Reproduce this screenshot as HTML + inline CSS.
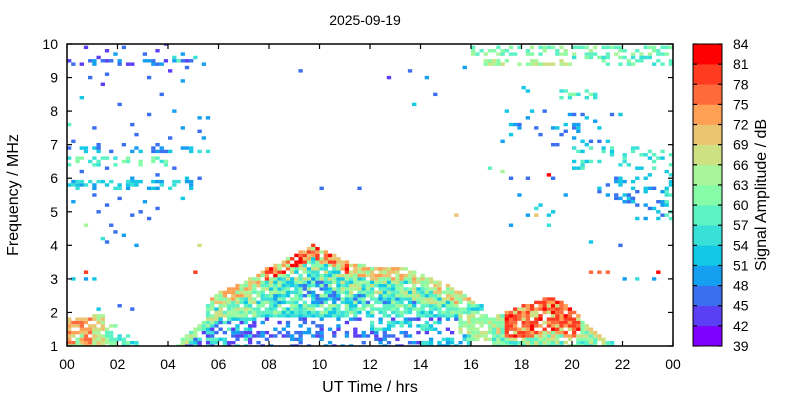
<!DOCTYPE html>
<html><head><meta charset="utf-8">
<style>
html,body{margin:0;padding:0;background:#fff;}
svg{display:block;font-family:"Liberation Sans",Arial,sans-serif;}
</style></head>
<body>
<svg id="chart" width="800" height="400" viewBox="0 0 800 400">
  <text x="365" y="25" font-size="14" text-anchor="middle">2025-09-19</text>
  <g id="cells"></g>
  <rect x="67" y="44" width="606" height="302" fill="none" stroke="#000" stroke-width="1.5"/>
  <g id="axes"></g>
  <text x="370" y="392" font-size="16" text-anchor="middle">UT Time / hrs</text>
  <text transform="translate(18,195) rotate(-90)" font-size="16" text-anchor="middle">Frequency / MHz</text>
  <g id="cbar"></g>
  <text transform="translate(766,195) rotate(-90)" font-size="16" text-anchor="middle">Signal Amplitude / dB</text>
</svg>
<script>
const xTicks = ["00","02","04","06","08","10","12","14","16","18","20","22","00"];
const yTicks = [1,2,3,4,5,6,7,8,9,10];
const cbLabels = [39,42,45,48,51,54,57,60,63,66,69,72,75,78,81,84];
const cbColors = ["#7f00ff","#5a3ff5","#3a70f0","#149ff0","#13c8e4","#38e0d8","#5cf2c4","#86fca8","#a9f59a","#cde183","#eac470","#ffa055","#ff6a3a","#ff3b20","#ff0000"];

// sparse/dense rectangular regions: [hourStart, hourEnd, fLow, fHigh, level, density]
const regions = [
 [0,1.0,1.0,1.75,72,0.85],[1.0,1.5,1.0,1.85,66,0.8],[1.5,2.0,1.0,1.6,60,0.7],[2.0,2.5,1.0,1.3,57,0.55],[2.5,2.8,1.0,1.05,54,0.5],
 [0,0.6,1.0,1.25,63,0.6],
 [0,5,5.7,5.85,51,0.45],[0,4,6.4,6.55,57,0.4],[0,5,6.75,6.85,48,0.3],[0,5,9.35,9.45,45,0.25],
 [5.5,16.5,1.85,2.15,54,0.85],[5.5,16.2,2.0,2.15,60,0.5],
 [7.5,16,1.0,1.8,45,0.3],[6.5,14,1.3,1.4,45,0.55],[12,15,1.5,1.7,54,0.45],
 [15.5,17.5,1.2,1.9,63,0.8],[14,16,1.0,1.25,51,0.5],
 [16,24,9.65,9.85,60,0.45],[16.5,20,9.35,9.5,63,0.55],[20,24,9.4,9.55,57,0.35],
 [20,24,6.3,7.0,54,0.25],[21,24,5.3,6.0,48,0.25],[22.5,24,4.8,6.2,48,0.25],[17,22,7.0,8.0,48,0.1],[17.5,20,4.6,5.5,51,0.08],
 [19.5,21,8.4,8.55,57,0.45],[23.7,24,4.8,6.5,54,0.45]
];
// upper F-layer dome envelope
const domeHours = [5.7,6,6.5,7,7.5,8,8.5,9,9.5,9.8,10,10.5,11,11.5,12,12.5,13,13.5,14,14.5,15,15.5,16,16.2];
const domeTop   = [2.4,2.6,2.75,2.9,3.1,3.35,3.5,3.7,3.9,4.05,3.9,3.75,3.55,3.45,3.35,3.3,3.35,3.3,3.15,3.0,2.85,2.65,2.4,2.25];
// early-morning wedge envelope
const wedgeHours = [4.3,4.7,5,5.5,6,6.5,7.5];
const wedgeTop   = [1.0,1.3,1.5,1.8,2.1,2.15,2.15];
// evening red blob envelope
const blobHours = [16.8,17.3,17.8,18.3,18.8,19.2,19.6,20,20.4,20.8,21.2,21.6];
const blobTop   = [1.7,2.0,2.15,2.25,2.4,2.45,2.3,2.1,1.8,1.5,1.3,1.1];
// isolated points: [hour, freq, level]
const points = [
 [0.7,9.85,42],[1.2,9.55,42],[1.6,9.8,42],[0.2,9.4,45],[0.5,9.4,42],[1.0,9.4,48],[1.4,9.5,45],[2.0,9.35,45],[2.6,9.4,42],[3.0,9.7,45],[3.3,9.5,48],[3.6,9.8,42],[3.9,9.95,42],[4.2,9.6,54],[4.4,9.5,57],[4.6,9.7,48],[4.8,9.3,45],[5.0,9.6,54],[5.4,9.4,48],[2.3,9.85,45],[1.9,9.7,48],[4.0,9.2,42],[3.2,9.0,45],[4.5,8.9,48],[0.9,9.0,45],[1.5,9.05,45],
 [0.5,8.4,51],[1.4,8.8,42],[2.0,8.2,45],[2.5,7.6,45],[3.2,7.9,45],[3.8,8.5,45],[4.3,8.0,48],[4.6,7.5,48],[5.3,7.8,48],[1.0,7.5,45],[2.8,7.3,45],[0.2,7.1,45],[1.2,7.0,45],[3.5,7.0,45],[4.0,7.2,45],[5.2,7.4,45],[5.5,7.8,48],[5.5,6.8,54],[5.2,6.8,54],[5.4,7.2,48],[0.1,7.6,57],[2.2,7.0,45],
 [0.3,5.3,48],[1.0,5.5,45],[1.5,5.2,45],[2.0,5.4,45],[2.5,4.9,45],[3.0,5.3,48],[3.5,5.1,45],[4.5,5.4,51],[1.8,4.6,45],[2.2,4.3,48],[0.8,4.6,63],[3.2,4.8,45],[1.2,5.0,45],[2.9,5.0,45],
 [0.5,6.2,45],[1.6,6.3,45],[2.5,6.0,48],[3.5,6.1,45],[4.2,6.3,45],[4.7,6.0,51],[5.3,6.0,45],
 [10.0,5.65,45],[11.6,5.7,45],[9.2,9.2,45],[12.7,9.0,42],[13.6,9.2,45],[14.3,9.0,48],[15.8,9.3,48],[13.8,8.2,51],[14.5,8.5,45],
 [15.4,4.9,69],[5.3,4.0,66],[5.0,3.2,78],[0.8,3.2,78],[0.3,3.0,51],[0.8,3.0,48],[1.0,3.0,51],[1.4,4.2,54],[1.6,4.1,45],[1.9,4.35,45],[2.8,4.0,48],[2.6,2.1,45],[1.3,2.1,51],[2.0,2.15,45],
 [20.8,3.15,75],[21.1,3.15,75],[21.4,3.15,75],[23.4,3.2,81],[22.0,3.0,48],[22.5,3.0,54],[23.2,3.0,48],[20.8,4.1,51],[21.9,4.0,45],
 [18.1,8.7,51],[18.2,8.6,51],[19.05,6.1,81],[17.5,6.0,45],[18.3,6.0,45],[19.3,6.0,45],[18.5,4.9,69],[16.8,6.3,57],[17.3,6.2,63],[18.8,7.3,45]
];

const NS = "http://www.w3.org/2000/svg";
const X0=67, X1=673, Y0=346, Y1=44;
const xs = h => X0 + h*(X1-X0)/24;
const ys = f => Y0 - (f-1)*(Y0-Y1)/9;
const colorOf = l => cbColors[Math.max(0,Math.min(14,Math.floor((l-39)/3)))];
const grid = new Map();
// pixel texture (visual dithering only)
function tex(i,j,s){ let h=Math.imul(i+1,374761393)^Math.imul(j+7,668265263)^Math.imul((s||0)+3,2246822519);
  h=Math.imul(h^(h>>>13),1274126177); h^=h>>>16; return (h>>>0)%100; }
function pick(arr,i,j){ return arr[tex(i,j,5)%arr.length]; }
function put(i,j,l){ if(i>=0&&i<144&&j>=0&&j<=90) grid.set(i+","+j,l); }
function interp(hs,ts,h){
  if(h<hs[0]||h>hs[hs.length-1]) return null;
  for(let k=0;k<hs.length-1;k++){ if(h>=hs[k]&&h<=hs[k+1]){ const t=(h-hs[k])/(hs[k+1]-hs[k]); return ts[k]+t*(ts[k+1]-ts[k]); } }
  return ts[ts.length-1];
}
regions.forEach(r=>{
  for(let i=Math.floor(r[0]*6); i<Math.ceil(r[1]*6); i++)
    for(let j=Math.round((r[2]-1)*10); j<=Math.round((r[3]-1)*10); j++)
      if(tex(i,j,1) < r[5]*100) put(i,j, r[4] + ((tex(i,j,2)%3)-1)*3);
});
for(let i=0;i<144;i++){
  const h=(i+0.5)/6;
  const wt=interp(wedgeHours,wedgeTop,h);
  if(wt!==null){ for(let j=0;(1+j/10)<=wt;j++){ const f=1+j/10, d=wt-f;
    if(h>6 && f<1.8 && tex(i,j,3)>45) continue;
    if(tex(i,j,4)<12) continue;
    put(i,j, d<0.3?pick([60,63,66,57],i,j):pick([54,45,51,42,57],i,j)); } }
  const dt=interp(domeHours,domeTop,h);
  if(dt!==null){ for(let j=13;(1+j/10)<=dt;j++){ const f=1+j/10, d=dt-f;
    if(Math.abs(f-2.2)<0.05) continue;
    if(tex(i,j,6)<8) continue;
    let l; const hot=(h>7.8&&h<11.2);
    if(d<0.4) l=hot?pick([75,72,78,69,81,63],i,j):pick([69,66,63,60,72],i,j);
    else if(d<0.9) l=pick([63,60,57,66,54,51],i,j);
    else l=pick([57,54,51,60,48,63,45],i,j);
    put(i,j,l); } }
  const bt=interp(blobHours,blobTop,h);
  if(bt!==null){ for(let j=0;(1+j/10)<=bt;j++){ const f=1+j/10, d=bt-f;
    if(tex(i,j,7)<8) continue;
    let l; const hot=(h>17.4&&h<20.3);
    if(f<1.3) l=pick([63,57,60,54,66],i,j); else if(hot&&d<1.0) l=pick([78,75,81,72,66,78],i,j); else l=pick([66,60,63,69,57],i,j);
    put(i,j,l); } }
}
points.forEach(p=>put(Math.floor(p[0]*6), Math.round((p[1]-1)*10), p[2]));
const gc=document.getElementById("cells");
const cw=(X1-X0)/144, chh=(Y0-Y1)/90;
grid.forEach((l,k)=>{
  const [i,j]=k.split(",").map(Number);
  const r=document.createElementNS(NS,"rect");
  r.setAttribute("x",(X0+i*cw).toFixed(2));
  r.setAttribute("y",(ys(1+j/10)-chh/2).toFixed(2));
  r.setAttribute("width",(cw+0.1).toFixed(2));
  r.setAttribute("height",(chh+0.05).toFixed(2));
  r.setAttribute("fill",colorOf(l));
  
  
  gc.appendChild(r);
});
gc.setAttribute("clip-path","url(#plotclip)");
const defs=document.createElementNS(NS,"defs");
defs.innerHTML='<clipPath id="plotclip"><rect x="67" y="44" width="606" height="302"/></clipPath>';
document.getElementById("chart").prepend(defs);

const ax=document.getElementById("axes");
function line(x1,y1,x2,y2,parent,name){const l=document.createElementNS(NS,"line");
  l.setAttribute("x1",x1);l.setAttribute("y1",y1);l.setAttribute("x2",x2);l.setAttribute("y2",y2);
  l.setAttribute("stroke","#000");l.setAttribute("stroke-width","1.2");
  
  
  parent.appendChild(l);}
function text(x,y,s,anchor,parent,name){const t=document.createElementNS(NS,"text");
  t.setAttribute("x",x);t.setAttribute("y",y);t.setAttribute("font-size","14");t.setAttribute("text-anchor",anchor);t.textContent=s;
  
  
  parent.appendChild(t);}
xTicks.forEach((s,k)=>{const x=xs(k*2);
  line(x,Y0,x,Y0-5,ax,"x-tick");line(x,Y1,x,Y1+5,ax,"x-tick-top");
  text(x,Y0+23,s,"middle",ax,"x-tick-label");});
yTicks.forEach(v=>{const y=ys(v);
  line(X0,y,X0+5,y,ax,"y-tick");line(X1,y,X1-5,y,ax,"y-tick-right");
  text(X0-9,y+5,String(v),"end",ax,"y-tick-label");});
const cb=document.getElementById("cbar");
const CX=693, CW=29, bh=(Y0-Y1)/15;
cbColors.forEach((c,k)=>{const r=document.createElementNS(NS,"rect");
  r.setAttribute("x",CX);r.setAttribute("y",(Y0-(k+1)*bh).toFixed(2));r.setAttribute("width",CW);r.setAttribute("height",(bh+0.3).toFixed(2));r.setAttribute("fill",c);
  
  
  cb.appendChild(r);});
const fr=document.createElementNS(NS,"rect");
fr.setAttribute("x",CX);fr.setAttribute("y",Y1);fr.setAttribute("width",CW);fr.setAttribute("height",Y0-Y1);fr.setAttribute("fill","none");fr.setAttribute("stroke","#000");


cb.appendChild(fr);
cbLabels.forEach((v,k)=>{const y=Y0-k*bh;
  line(CX,y,CX+4,y,cb,"colorbar-tick");line(CX+CW,y,CX+CW-4,y,cb,"colorbar-tick-right");
  text(CX+40,y+5,String(v),"start",cb,"colorbar-tick-label");});
</script>
</body></html>
